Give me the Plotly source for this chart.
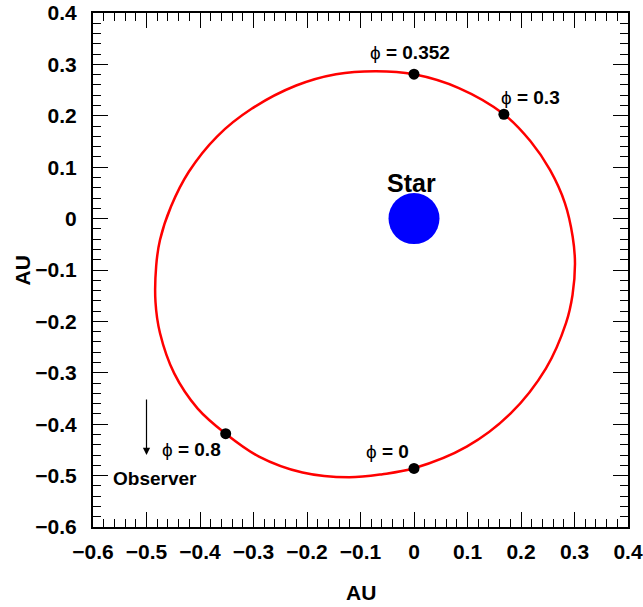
import plotly.graph_objects as go

# Orbit trace (AU)
orbit_x = [0.0, 0.0985, 0.1802, 0.2467, 0.2841, 0.2963, 0.3009, 0.2966, 0.2822, 0.2542, 0.2178,
           0.1682, 0.0839, 0.0, -0.0710, -0.1458, -0.2202, -0.3036, -0.3682, -0.4206, -0.4542,
           -0.4748, -0.4819, -0.4832, -0.4748, -0.4482, -0.4047, -0.352, -0.2897, -0.2084,
           -0.1215, -0.0589, 0.0]
orbit_y = [-0.4858, -0.4438, -0.3796, -0.2914, -0.2035, -0.1486, -0.0868, -0.0352, 0.0298, 0.0946, 0.1504,
           0.2029, 0.2539, 0.2807, 0.2868, 0.2809, 0.2589, 0.2136, 0.1597, 0.0916, 0.0235,
           -0.0416, -0.0922, -0.1623, -0.2226, -0.3012, -0.3691, -0.4185, -0.463, -0.494,
           -0.5033, -0.4973, -0.4858]

# Phase points
phase_labels = ["0", "0.3", "0.352", "0.8"]
phase_x = [0.0, 0.168, 0.0, -0.352]
phase_y = [-0.486, 0.203, 0.281, -0.4185]

star_x = [0.0]
star_y = [0.0]

tick_vals = [-0.6, -0.5, -0.4, -0.3, -0.2, -0.1, 0.0, 0.1, 0.2, 0.3, 0.4]

FONT = "Liberation Sans"

fig = go.Figure()
fig.add_trace(go.Scatter(x=orbit_x, y=orbit_y, mode="lines",
                         line=dict(color="#ff0000", width=2.5, shape="spline", smoothing=1.0),
                         hoverinfo="skip", showlegend=False))
fig.add_trace(go.Scatter(x=phase_x, y=phase_y, mode="markers",
                         marker=dict(color="black", size=11), showlegend=False))
fig.add_trace(go.Scatter(x=star_x, y=star_y, mode="markers",
                         marker=dict(color="#0000ff", size=51), showlegend=False))

# Phase label offsets (AU) relative to each point
label_dx = [-0.049, 0.049, -0.007, -0.063]
label_dy = [0.032, 0.032, 0.043, -0.031]
for lab, px, py, dx, dy in zip(phase_labels, phase_x, phase_y, label_dx, label_dy):
    fig.add_annotation(x=px + dx, y=py + dy, xref="x", yref="y", showarrow=False,
                       text="ϕ <b>= " + lab + "</b>",
                       font=dict(family=FONT, size=19, color="black"))

fig.add_annotation(x=star_x[0] - 0.004, y=star_y[0] + 0.069, xref="x", yref="y", showarrow=False,
                   text="<b>Star</b>", font=dict(family=FONT, size=25, color="black"))

# Observer arrow
fig.add_annotation(x=-0.5, y=-0.46, ax=-0.5, ay=-0.349, xref="x", yref="y",
                   axref="x", ayref="y", showarrow=True, text="",
                   arrowhead=2, arrowsize=1.2, arrowwidth=1.2, arrowcolor="black")
fig.add_annotation(x=-0.484, y=-0.505, xref="x", yref="y", showarrow=False,
                   text="<b>Observer</b>", font=dict(family=FONT, size=19, color="black"))

# Axis titles
fig.add_annotation(x=0.5, y=-0.128, xref="paper", yref="paper", showarrow=False,
                   text="<b>AU</b>", font=dict(family=FONT, size=21, color="black"),
                   xanchor="center", yanchor="middle")
fig.add_annotation(x=-0.132, y=0.5, xref="paper", yref="paper", showarrow=False,
                   text="<b>AU</b>", textangle=-90, font=dict(family=FONT, size=21, color="black"),
                   xanchor="center", yanchor="middle")

axis_common = dict(
    tickvals=tick_vals, ticks="inside", ticklen=15, tickwidth=1, tickcolor="black",
    showline=True, linecolor="black", linewidth=2, mirror="ticks",
    showgrid=False, zeroline=False, automargin=False,
    tickfont=dict(family=FONT, size=21, color="black", weight="bold"),
    minor=dict(ticks="inside", ticklen=8, tickwidth=1, tickcolor="black", dtick=0.02,
               tick0=0, showgrid=False),
)

fig.update_xaxes(range=[-0.6, 0.4], ticklabelstandoff=5, **axis_common)
fig.update_yaxes(range=[-0.6, 0.4], ticklabelstandoff=10, **axis_common)

fig.update_layout(
    width=643, height=607,
    margin=dict(l=93, r=15, t=13, b=80),
    plot_bgcolor="white", paper_bgcolor="white",
    font=dict(family=FONT, color="black"),
)

fig.write_html("out.html", config={"displayModeBar": False},
               post_script="document.body.style.margin='0';")
